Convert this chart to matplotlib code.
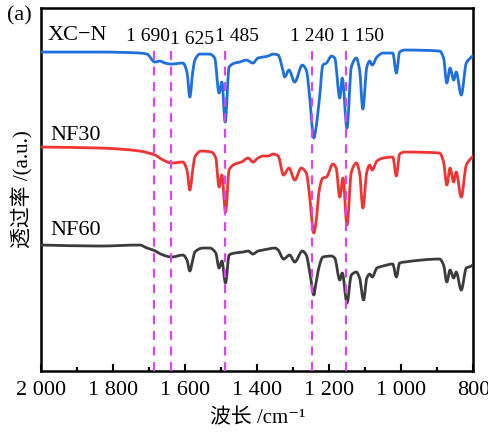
import matplotlib
matplotlib.use('Agg')
import matplotlib.pyplot as plt
import numpy as np
from matplotlib.path import Path
from matplotlib.patches import PathPatch
from matplotlib.ticker import MultipleLocator, FixedLocator, FixedFormatter

plt.rcParams['font.family'] = ['Liberation Serif', 'Noto Sans CJK SC', 'DejaVu Sans']

# ---- data (wavenumber, transmittance a.u.) ----
xcn_w = [2000, 1836, 1726, 1706, 1684, 1670, 1656, 1638, 1606, 1595, 1587, 1579, 1573,
         1559, 1532, 1518, 1506, 1498, 1489, 1478, 1462, 1449, 1430, 1412, 1398, 1384,
         1370, 1356, 1342, 1329, 1324, 1312, 1296, 1275, 1264, 1253, 1247, 1243, 1238,
         1227, 1218, 1208, 1194, 1185, 1171, 1164, 1151, 1139, 1125, 1116, 1107, 1096,
         1088, 1081, 1068, 1051, 1024, 1014, 1005, 991, 894, 883, 874, 865, 855, 848,
         834, 820, 806, 800]
xcn_t = [319, 319, 318, 317, 309, 310, 308, 307, 308, 299, 274, 299, 311,
         317, 317, 313, 278, 289, 249, 304, 308, 309, 311, 308, 313, 314,
         315, 317, 316, 301, 294, 301, 289, 306, 301, 268, 241, 233, 241,
         274, 306, 308, 315, 313, 273, 293, 243, 304, 313, 301, 262, 304,
         310, 306, 314, 318, 318, 298, 319, 321, 320, 313, 288, 303, 291, 299,
         276, 308, 314, 316]

nf30_w = [2000, 1836, 1726, 1684, 1661, 1638, 1606, 1595, 1587, 1579, 1573, 1555,
          1527, 1515, 1506, 1498, 1488, 1478, 1462, 1444, 1425, 1412, 1398, 1384,
          1370, 1356, 1342, 1327, 1312, 1296, 1278, 1264, 1253, 1247, 1243, 1238,
          1227, 1218, 1208, 1190, 1181, 1171, 1162, 1151, 1139, 1125, 1116, 1107,
          1096, 1088, 1081, 1068, 1051, 1024, 1014, 1005, 991, 894, 883, 874, 865,
          855, 848, 834, 820, 806, 800]
nf30_t = [224, 223, 220, 216, 211, 208, 209, 201, 181, 201, 214, 220,
          219, 213, 184, 196, 159, 201, 207, 209, 213, 209, 213, 215,
          215, 217, 215, 196, 203, 191, 203, 198, 169, 146, 138, 146,
          183, 193, 194, 207, 203, 174, 193, 146, 199, 208, 198, 163,
          199, 206, 201, 210, 213, 214, 195, 217, 219, 218, 209, 186, 203,
          189, 199, 174, 206, 213, 215]

nf60_w = [2000, 1836, 1726, 1706, 1689, 1661, 1638, 1606, 1595, 1587, 1579, 1573,
          1550, 1532, 1515, 1506, 1498, 1488, 1478, 1462, 1439, 1425, 1412, 1398,
          1384, 1370, 1351, 1342, 1327, 1310, 1296, 1275, 1264, 1253, 1243, 1238,
          1227, 1218, 1194, 1185, 1171, 1164, 1151, 1139, 1125, 1116, 1105, 1096,
          1088, 1081, 1068, 1051, 1024, 1014, 1005, 991, 894, 883, 874, 865, 855,
          848, 834, 820, 806, 800]
nf60_t = [126, 125, 126, 123, 121, 116, 114, 116, 111, 100, 111, 119,
          123, 123, 118, 103, 110, 88, 116, 118, 119, 120, 117, 120,
          121, 122, 123, 121, 112, 116, 109, 120, 116, 96, 76, 86,
          106, 114, 115, 113, 91, 98, 68, 96, 99, 93, 71, 93,
          97, 94, 103, 105, 107, 94, 108, 109, 112, 106, 89, 101, 93,
          99, 81, 103, 105, 107]

series_names = ['XC\u2212N', 'NF30', 'NF60']
series_colors = ['#1f6fdc', '#f03434', '#3c3c3c']

ref_lines = [1686, 1640, 1490, 1248, 1155]
peak_labels = ['1 690', '1 625', '1 485', '1 240', '1 150']

tick_values = [2000, 1800, 1600, 1400, 1200, 1000, 800]
tick_labels = ['2 000', '1 800', '1 600', '1 400', '1 200', '1 000', '800']


def smooth_path(xs, ys):
    """Bezier path through the given points (monotone cubic, no overshoot)."""
    x = np.asarray(xs, float)[::-1]
    y = np.asarray(ys, float)[::-1]
    h = np.diff(x)
    d = np.diff(y) / h
    m = np.zeros_like(x)
    m[0], m[-1] = d[0], d[-1]
    for k in range(1, len(x) - 1):
        if d[k - 1] * d[k] > 0:
            w1 = 2 * h[k] + h[k - 1]
            w2 = h[k] + 2 * h[k - 1]
            m[k] = (w1 + w2) / (w1 / d[k - 1] + w2 / d[k])
    verts = [(x[0], y[0])]
    codes = [Path.MOVETO]
    for i in range(len(x) - 1):
        verts += [(x[i] + h[i] / 3, y[i] + m[i] * h[i] / 3),
                  (x[i + 1] - h[i] / 3, y[i + 1] - m[i + 1] * h[i] / 3),
                  (x[i + 1], y[i + 1])]
        codes += [Path.CURVE4] * 3
    return Path(verts, codes)


# ---- figure ----
fig = plt.figure(figsize=(4.89, 4.37), dpi=100)
ax = fig.add_axes([0.0838, 0.151, 0.8845, 0.8317])

for w, t, c in zip([xcn_w, nf30_w, nf60_w], [xcn_t, nf30_t, nf60_t], series_colors):
    ax.add_patch(PathPatch(smooth_path(w, t), fill=False, edgecolor=c, lw=2.0,
                           joinstyle='round', capstyle='round', zorder=3))

for x in ref_lines:
    ax.plot([x, x], [0, 326], color='#dd44f5', lw=1.6, dashes=(4, 3), zorder=4)

ax.set_xlim(2000, 800)
ax.set_ylim(0, 363.5)

ax.xaxis.set_major_locator(FixedLocator(tick_values))
ax.xaxis.set_major_formatter(FixedFormatter(tick_labels))
ax.xaxis.set_minor_locator(MultipleLocator(100))
ax.tick_params(axis='x', which='major', direction='in', length=5, width=1.5,
               labelsize=16, pad=7)
ax.tick_params(axis='x', which='minor', direction='in', length=3, width=1.5)
ax.tick_params(axis='y', left=False, labelleft=False)
for s in ax.spines.values():
    s.set_linewidth(1.8)

# labels on curves
label_x = [1983, 1975, 1975]
label_y = [336, 236, 141]
for name, x, y in zip(series_names, label_x, label_y):
    ax.text(x, y, name, fontsize=16, ha='left', va='center')

peak_x = [1703, 1582, 1457, 1249, 1108]
peak_y = [335, 332, 335, 335, 335]
for lab, x, y in zip(peak_labels, peak_x, peak_y):
    ax.text(x, y, lab, fontsize=14, ha='center', va='center')

ax.set_xlabel('波长 /cm\u207b\u00b9', fontsize=15, labelpad=7)
ax.set_ylabel('透过率 /(a.u.)', fontsize=15, labelpad=6)
fig.text(7 / 489, 1 - 16 / 437, '(a)', fontsize=16, ha='left', va='center')

fig.savefig('out.png', dpi=100)
